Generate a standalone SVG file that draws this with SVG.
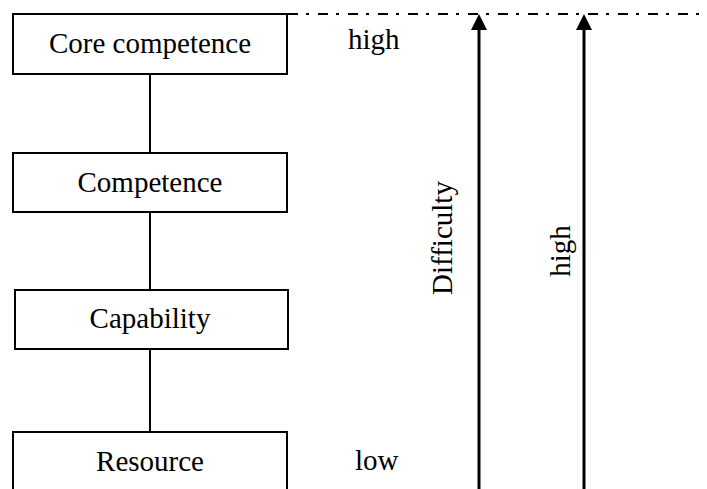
<svg xmlns="http://www.w3.org/2000/svg" width="707" height="489" viewBox="0 0 707 489">
<style>
.box{fill:#fff;stroke:#000;stroke-width:2}
.t{font-family:"Liberation Serif","Times New Roman",serif;font-size:29px;fill:#000}
.c{text-anchor:middle}
.ln{stroke:#000;stroke-width:2;fill:none}
.ax{stroke:#000;stroke-width:3;fill:none}
.dd{stroke:#000;stroke-width:2;fill:none;stroke-dasharray:10 8 3 9}
</style>
<defs>
<marker id="ah" markerUnits="userSpaceOnUse" markerWidth="16" markerHeight="17" refX="8" refY="0" orient="auto-start-reverse" viewBox="0 -1 16 17">
<path d="M0,16 L8,0 L16,16 Z" fill="#000"/>
</marker>
</defs>
<g id="connectors">
<line class="ln" x1="150" y1="74" x2="150" y2="153"/>
<line class="ln" x1="150" y1="212" x2="150" y2="290"/>
<line class="ln" x1="150" y1="349" x2="150" y2="432"/>
<line class="dd" x1="288" y1="14" x2="707" y2="14"/>
<line class="ax" x1="479" y1="489" x2="479" y2="28"/>
<path d="M471,30 L479,14 L487,30 Z" fill="#000"/>
<line class="ax" x1="584" y1="489" x2="584" y2="28"/>
<path d="M576,30 L584,14 L592,30 Z" fill="#000"/>
</g>
<g id="core">
<rect class="box" x="13" y="14" width="274" height="60"/>
<text class="t c" x="150" y="53">Core competence</text>
</g>
<g id="competence">
<rect class="box" x="13" y="153" width="274" height="59"/>
<text class="t c" x="150" y="192">Competence</text>
</g>
<g id="capability">
<rect class="box" x="15" y="290" width="273" height="59"/>
<text class="t c" x="150" y="328">Capability</text>
</g>
<g id="resource">
<rect class="box" x="13" y="432" width="274" height="62"/>
<text class="t c" x="150" y="471">Resource</text>
</g>
<g id="labels">
<text class="t" x="348" y="49">high</text>
<text class="t" x="355" y="470">low</text>
<text class="t c" transform="translate(452,238) rotate(-90)">Difficulty</text>
<text class="t c" transform="translate(570,251) rotate(-90)">high</text>
</g>
</svg>
